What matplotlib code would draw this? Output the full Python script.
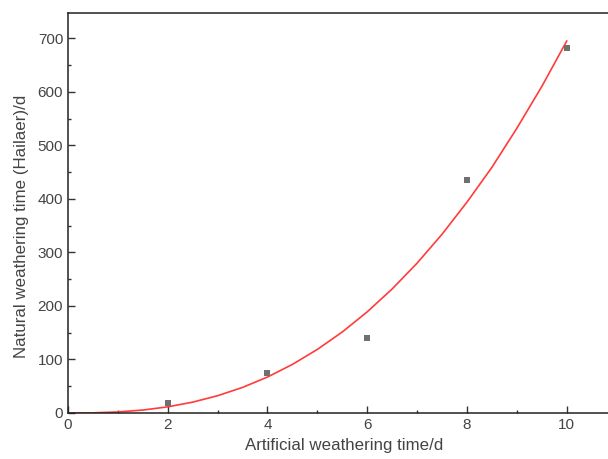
import matplotlib
matplotlib.use("Agg")
import matplotlib.pyplot as plt

# measured points
x_data = [2, 4, 6, 8, 10]
y_data = [19, 74, 141, 435, 682]

# fitted curve
x_fit = [0, 0.5, 1, 1.5, 2, 2.5, 3, 3.5, 4, 4.5, 5, 5.5, 6, 6.5, 7, 7.5, 8, 8.5, 9, 9.5, 10]
y_fit = [0, 0.3, 2, 5.5, 11.5, 20.3, 32.3, 47.8, 67.2, 90.8, 118.8, 151.4, 189, 231.8,
         280, 334, 394, 459, 532, 610, 695]

x_ticks = [0, 2, 4, 6, 8, 10]
y_ticks = [0, 100, 200, 300, 400, 500, 600, 700]

plt.rcParams['font.family'] = ['Liberation Sans', 'DejaVu Sans']

fig = plt.figure(figsize=(6.08, 4.59), dpi=100)
ax_w = 1 - 68/608 + 0.01
ax = fig.add_axes([68/608, 46/459, ax_w, (413 - 12.7)/459])
wpx = ax_w * 608
hpx = 413 - 12.7

ax.plot(x_fit, y_fit, color='#ff3b3b', lw=1.2, zorder=2)
ax.scatter(x_data, y_data, marker='s', s=22, color='#707070', zorder=3, linewidths=0)

ax.set_xlim(0, 10.95)
ax.set_ylim(0, 748)
ax.set_xticks(x_ticks)
ax.set_yticks(y_ticks)
ax.set_xticks([1, 3, 5, 7, 9], minor=True)
ax.set_yticks([50, 150, 250, 350, 450, 550, 650], minor=True)
ax.tick_params(which='major', direction='in', length=5, width=1, color='#333333',
               labelsize=11, labelcolor='#444444', pad=3.5)
ax.tick_params(which='minor', direction='in', length=2.5, width=1, color='#333333')
for s in ['left', 'bottom', 'top']:
    ax.spines[s].set_color('#222222')
    ax.spines[s].set_linewidth(1.1)
ax.spines['right'].set_visible(False)

ax.set_xlabel('Artificial weathering time/d', fontsize=12.2, color='#444444')
ax.xaxis.set_label_coords((344 - 68) / wpx, -(438 - 413) / hpx)
ax.xaxis.label.set_verticalalignment('top')
ax.set_ylabel('Natural weathering time (Hailaer)/d', fontsize=12.2, color='#444444')
ax.yaxis.set_label_coords((29 - 68) / wpx, (413 - 226) / hpx)

fig.savefig('out.png', dpi=100)
